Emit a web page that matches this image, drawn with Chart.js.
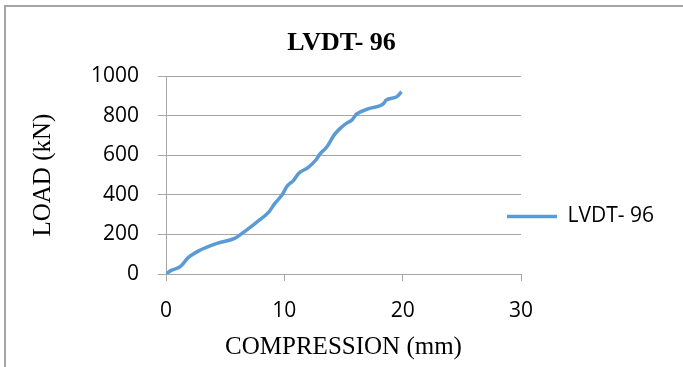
<!DOCTYPE html>
<html>
<head>
<meta charset="utf-8">
<script src="https://cdn.jsdelivr.net/npm/chart.js@4.4.1/dist/chart.umd.min.js"></script>
<style>
    html, body { margin: 0; padding: 0; background: #fff; }
    #wrap { position: relative; width: 683px; height: 367px; overflow: hidden; }
    #frame { position: absolute; left: 4px; top: 5px; width: 2000px; height: 2000px;
             border-left: 2px solid #a6a6a6; border-top: 2px solid #a6a6a6; }
    #loadChart { position: absolute; left: 0; top: 0; }
</style>
</head>
<body>
<div id="wrap">
    <div id="frame"></div>
    <canvas id="loadChart" width="683" height="367"></canvas>
</div>
<script>
// Values
const seriesName = 'LVDT- 96';
const compression = [0, 0.4, 1.2, 1.9, 2.9, 4.3, 5.8, 6.8, 7.7, 8.7, 9.2, 9.8, 10.2, 10.8, 11.2,
    12.0, 12.7, 13.0, 13.6, 14.2, 14.7, 15.3, 15.7, 16.1, 17.2, 18.4, 18.6, 19.5, 19.9];
const load = [0, 17, 37, 84, 121, 155, 180, 222, 264, 314, 357, 399, 441, 475, 508,
    538, 579, 606, 643, 702, 735, 764, 778, 808, 837, 862, 879, 896, 921];
const xTicks = [0, 10, 20, 30];
const yTicks = [0, 200, 400, 600, 800, 1000];

const gridColor = '#a6a6a6';
const lineColor = '#5b9bd5';

// Pulls the legend back over the plot edge, like the Excel original
const legendNudge = {
    id: 'legendNudge',
    afterLayout(chart) {
        const lg = chart.legend;
        const shift = chart.chartArea.right - 14 - lg.options.labels.padding - lg.left;
        lg.left += shift;
        lg.right += shift;
        lg.top += 33;
        lg.bottom += 33;
    }
};

const points = compression.map((c, i) => ({ x: c, y: load[i] }));

new Chart(document.getElementById('loadChart'), {
    type: 'scatter',
    data: {
        datasets: [{
            label: seriesName,
            data: points,
            showLine: true,
            borderColor: lineColor,
            backgroundColor: lineColor,
            borderWidth: 3.5,
            pointRadius: 0,
            pointHoverRadius: 0,
            cubicInterpolationMode: 'monotone'
        }]
    },
    options: {
        responsive: false,
        animation: false,
        layout: { padding: 0 },
        plugins: {
            title: {
                display: true,
                text: seriesName,
                color: '#000',
                font: { family: 'Liberation Serif', weight: 'bold', size: 26 },
                padding: { top: 28, bottom: 17 }
            },
            legend: {
                position: 'right',
                maxWidth: 162,
                labels: {
                    usePointStyle: true,
                    pointStyle: 'line',
                    pointStyleWidth: 50,
                    padding: 10,
                    color: '#000',
                    font: { family: 'Open Sans', size: 21 }
                }
            },
            tooltip: { enabled: false }
        },
        scales: {
            x: {
                type: 'linear',
                min: xTicks[0],
                max: xTicks[xTicks.length - 1],
                afterBuildTicks: (s) => { s.ticks = xTicks.map(v => ({ value: v })); },
                afterFit: (s) => { s.height = 93; },
                grid: { drawOnChartArea: false, drawTicks: true, tickLength: 7, color: gridColor },
                border: { display: true, color: gridColor },
                ticks: { color: '#000', padding: 17, font: { family: 'Open Sans', size: 21 } },
                title: {
                    display: true,
                    text: 'COMPRESSION (mm)',
                    color: '#000',
                    font: { family: 'Liberation Serif', size: 25 },
                    padding: { top: 0, bottom: 5 }
                }
            },
            y: {
                type: 'linear',
                min: yTicks[0],
                max: yTicks[yTicks.length - 1],
                afterBuildTicks: (s) => { s.ticks = yTicks.map(v => ({ value: v })); },
                afterFit: (s) => { s.width = 166; },
                grid: { color: gridColor, tickLength: 8 },
                border: { display: true, color: gridColor },
                ticks: {
                    color: '#000',
                    padding: 19,
                    font: { family: 'Open Sans', size: 21 },
                    callback: (v) => String(v)
                },
                title: {
                    display: true,
                    text: 'LOAD (kN)',
                    color: '#000',
                    font: { family: 'Liberation Serif', size: 25 },
                    padding: { top: 28, bottom: 0 }
                }
            }
        }
    },
    plugins: [legendNudge]
});
</script>
</body>
</html>
